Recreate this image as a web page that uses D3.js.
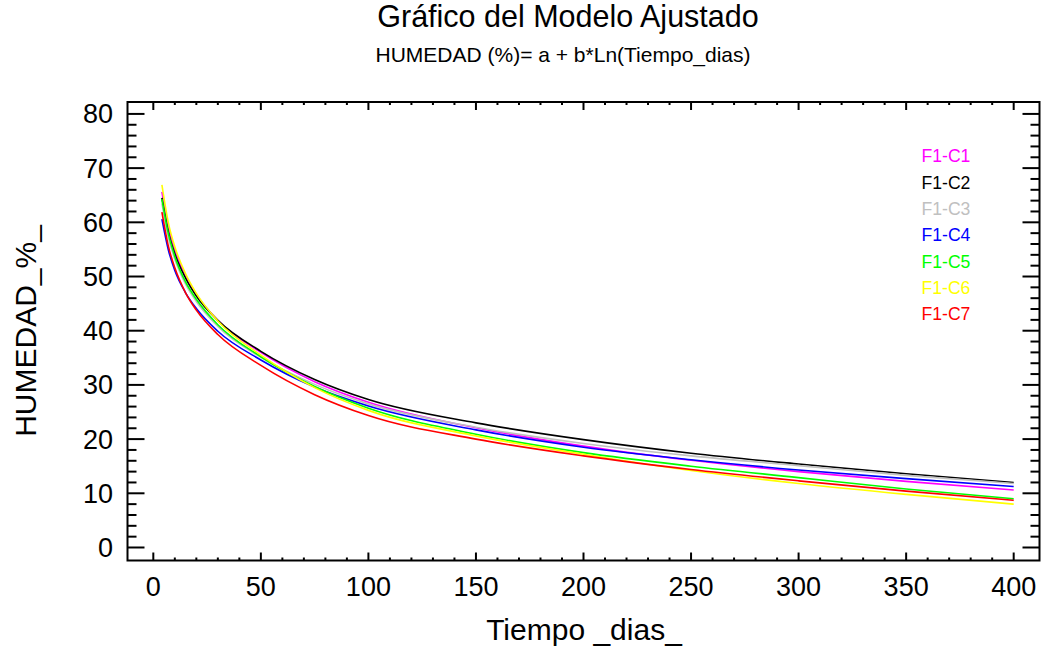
<!DOCTYPE html>
<html><head><meta charset="utf-8">
<script src="https://cdn.jsdelivr.net/npm/d3@7"></script>
<style>body{margin:0;background:#fff}svg{display:block;font-family:"Liberation Sans",Arial,sans-serif}</style>
</head><body><svg id="c" width="1041" height="647"></svg>
<script>
const tiempo = [4, 7, 10, 15, 20, 30, 50, 75, 100, 150, 200, 250, 300, 350, 400];
const c1 = [65.6, 59.0, 54.9, 50.1, 46.7, 41.9, 36.0, 30.6, 26.8, 22.1, 18.7, 16.1, 14.0, 12.2, 10.6];
const c2 = [64.5, 58.2, 54.2, 49.7, 46.4, 41.9, 36.2, 31.0, 27.3, 23.0, 19.9, 17.4, 15.4, 13.6, 12.0];
const c3 = [63.5, 57.2, 53.2, 48.6, 45.4, 40.8, 35.1, 30.1, 26.5, 22.2, 19.2, 16.9, 15.1, 13.3, 11.8];
const c4 = [60.6, 54.9, 51.1, 47.0, 44.1, 39.9, 34.6, 29.6, 26.1, 21.7, 18.5, 16.2, 14.3, 12.7, 11.25];
const c5 = [64.3, 57.9, 53.7, 49.0, 45.8, 41.1, 35.2, 29.7, 25.7, 20.9, 17.5, 15.0, 12.9, 10.8, 9.0];
const c6 = [66.9, 59.9, 55.5, 50.5, 46.9, 41.8, 35.5, 29.5, 25.3, 20.6, 17.2, 14.2, 11.8, 9.8, 8.0];
const c7 = [61.9, 55.6, 51.6, 47.0, 43.8, 39.3, 33.6, 28.2, 24.35, 20.0, 16.9, 14.4, 12.3, 10.4, 8.7];
const seriesNames = ["F1-C1", "F1-C2", "F1-C3", "F1-C4", "F1-C5", "F1-C6", "F1-C7"];
const seriesValues = [c1, c2, c3, c4, c5, c6, c7];
const seriesColors = ["#ff00ff", "#000000", "#c0c0c0", "#0000ff", "#00ff00", "#ffff00", "#ff0000"];
const xTicks = [0, 50, 100, 150, 200, 250, 300, 350, 400];
const yTicks = [0, 10, 20, 30, 40, 50, 60, 70, 80];
const titleText = "Gráfico del Modelo Ajustado";
const subtitleText = "HUMEDAD (%)= a + b*Ln(Tiempo_dias)";
const xTitle = "Tiempo _dias_";
const yTitle = "HUMEDAD_%_";

const svg = d3.select("#c");
const L = 127.5, R = 1039.5, T = 102, B = 560.5;
const x = d3.scaleLinear().domain([-12, 412]).range([L, R]);
const y = d3.scaleLinear().domain([-2.4, 82.2]).range([B, T]);

// titles
svg.append("text").attr("x", 568).attr("y", 27).attr("text-anchor", "middle")
  .attr("font-size", 30.5).text(titleText);
svg.append("text").attr("x", 563).attr("y", 62).attr("text-anchor", "middle")
  .attr("font-size", 21).text(subtitleText);

// lines
const line = d3.line().x((d, i) => x(tiempo[i])).y(d => y(d)).curve(d3.curveMonotoneX);
seriesValues.forEach((vals, k) => {
  svg.append("path").attr("d", line(vals)).attr("fill", "none")
    .attr("stroke", seriesColors[k]).attr("stroke-width", 1.6);
});

// frame
svg.append("rect").attr("x", L).attr("y", T).attr("width", R - L).attr("height", B - T)
  .attr("fill", "none").attr("stroke", "#000").attr("stroke-width", 2);

// x ticks
const xMinor = d3.range(0, 401, 10);
const gx = svg.append("g");
xMinor.forEach(v => {
  const major = v % 50 === 0;
  const len = major ? 8 : 3;
  gx.append("line").attr("x1", x(v)).attr("x2", x(v)).attr("y1", B).attr("y2", B - len).attr("stroke", "#000").attr("stroke-width", 2);
  gx.append("line").attr("x1", x(v)).attr("x2", x(v)).attr("y1", T).attr("y2", T + len).attr("stroke", "#000").attr("stroke-width", 2);
});
xTicks.forEach(v => {
  gx.append("text").attr("x", x(v)).attr("y", 596).attr("text-anchor", "middle").attr("font-size", 27).text(v);
});
// y ticks
const yMinor = d3.range(0, 81, 2);
yMinor.forEach(v => {
  const major = v % 10 === 0;
  const len = major ? 17 : 9;
  gx.append("line").attr("x1", L).attr("x2", L + len).attr("y1", y(v)).attr("y2", y(v)).attr("stroke", "#000").attr("stroke-width", 2);
  gx.append("line").attr("x1", R).attr("x2", R - len).attr("y1", y(v)).attr("y2", y(v)).attr("stroke", "#000").attr("stroke-width", 2);
});
yTicks.forEach(v => {
  gx.append("text").attr("x", 113).attr("y", y(v)).attr("dy", "0.35em").attr("text-anchor", "end").attr("font-size", 27).text(v);
});

// axis titles
svg.append("text").attr("x", 584).attr("y", 640).attr("text-anchor", "middle").attr("font-size", 30).text(xTitle);
svg.append("text").attr("transform", "translate(36,331) rotate(-90)").attr("text-anchor", "middle").attr("font-size", 30).text(yTitle);

// legend
seriesNames.forEach((n, k) => {
  svg.append("text").attr("x", 921.5).attr("y", 162.3 + k * 26.3).attr("font-size", 17.6)
    .attr("fill", seriesColors[k]).text(n);
});
</script></body></html>
